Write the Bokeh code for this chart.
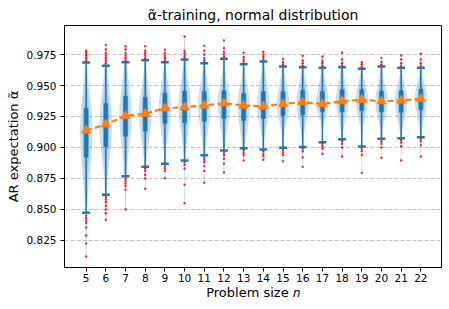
import numpy as np
from bokeh.plotting import figure
from bokeh.models import FixedTicker, Range1d
from bokeh.embed import file_html
from bokeh.resources import INLINE

# ---- data ----
sizes = list(range(5, 23))
means = [0.9137, 0.9186, 0.9256, 0.9272, 0.9317, 0.9325, 0.9339, 0.9357, 0.9339,
         0.9331, 0.9352, 0.9365, 0.9352, 0.9373, 0.9385, 0.9373, 0.9379, 0.9393]
q1 = [0.8922, 0.9008, 0.9089, 0.9132, 0.9196, 0.9199, 0.9212, 0.9236, 0.9218,
      0.9236, 0.9260, 0.9264, 0.9290, 0.9288, 0.9298, 0.9288, 0.9285, 0.9304]
q3 = [0.9317, 0.9357, 0.9414, 0.9406, 0.9438, 0.9454, 0.9452, 0.9457, 0.9435,
      0.9452, 0.9452, 0.9460, 0.9452, 0.9465, 0.9465, 0.9454, 0.9457, 0.9470]
whisk_hi = [0.9685, 0.9660, 0.9688, 0.9704, 0.9688, 0.9710, 0.9680, 0.9715, 0.9672,
            0.9694, 0.9653, 0.9648, 0.9643, 0.9648, 0.9635, 0.9653, 0.9643, 0.9643]
whisk_lo = [0.8473, 0.8619, 0.8769, 0.8844, 0.8868, 0.8895, 0.8938, 0.8976, 0.8994,
            0.8984, 0.8998, 0.9003, 0.9043, 0.9067, 0.9008, 0.9070, 0.9075, 0.9083]
top_out = [
    [0.970, 0.972, 0.974, 0.9755, 0.977, 0.978],
    [0.968, 0.970, 0.972, 0.974, 0.976, 0.979, 0.9828],
    [0.970, 0.972, 0.974, 0.976, 0.979, 0.9817],
    [0.972, 0.974, 0.976, 0.978, 0.9817],
    [0.970, 0.972, 0.974, 0.976, 0.9788],
    [0.9725, 0.974, 0.976, 0.978, 0.9895],
    [0.970, 0.972, 0.975, 0.978, 0.982],
    [0.973, 0.975, 0.977, 0.980, 0.9863],
    [0.969, 0.971, 0.973, 0.9764],
    [0.971, 0.973, 0.975, 0.9772],
    [0.967, 0.969, 0.9715],
    [0.966, 0.968, 0.970, 0.974],
    [0.966, 0.968, 0.970, 0.9734],
    [0.966, 0.968, 0.971, 0.9766],
    [0.965, 0.967, 0.9688],
    [0.967, 0.969, 0.9723],
    [0.966, 0.968, 0.971, 0.9742],
    [0.966, 0.968, 0.971, 0.9756],
]
low_out = [
    [0.845, 0.843, 0.841, 0.839, 0.8355, 0.829, 0.8226, 0.8121],
    [0.860, 0.858, 0.856, 0.853, 0.850, 0.847, 0.8417],
    [0.875, 0.873, 0.871, 0.869, 0.866, 0.850],
    [0.883, 0.881, 0.878, 0.875, 0.8667],
    [0.885, 0.883, 0.881, 0.8752],
    [0.888, 0.886, 0.883, 0.870, 0.855],
    [0.892, 0.890, 0.888, 0.885, 0.881, 0.8715],
    [0.896, 0.894, 0.891, 0.887, 0.8798],
    [0.898, 0.896, 0.894, 0.8895],
    [0.897, 0.895, 0.893, 0.8901],
    [0.898, 0.896, 0.894, 0.889],
    [0.899, 0.897, 0.892, 0.8844],
    [0.903, 0.901, 0.899, 0.8949],
    [0.905, 0.903, 0.900, 0.8927],
    [0.899, 0.897, 0.894, 0.8795],
    [0.905, 0.903, 0.900, 0.8917],
    [0.906, 0.904, 0.901, 0.8895],
    [0.907, 0.905, 0.902, 0.8927],
]
y_ticks = [0.825, 0.850, 0.875, 0.900, 0.925, 0.950, 0.975]

BLUE = "#1f77b4"
ORANGE = "#ff7f0e"

p = figure(width=449, height=309, output_backend="svg", toolbar_location=None,
           x_range=Range1d(3.9, 23.05), y_range=Range1d(0.8032, 0.9984),
           min_border_left=64, min_border_right=8, min_border_top=25, min_border_bottom=42)

p.title.text = "\u03b1\u0303-training, normal distribution"
p.title.text_font = "DejaVu Sans"
p.title.text_font_size = "14px"
p.title.text_font_style = "normal"
p.title.text_color = "black"
p.title.align = "center"
p.title.standoff = 6

# violins (two layers)
vx_out, vy_out, vx_in, vy_in = [], [], [], []
for i, n in enumerate(sizes):
    lo = min(low_out[i]); hi = max(top_out[i]); c = means[i]
    s_up = (q3[i] - c) / 0.674
    s_dn = (c - q1[i]) / 0.674
    ys = np.linspace(lo, hi, 160)
    s = np.where(ys > c, s_up, s_dn)
    w = np.exp(-0.5 * ((ys - c) / s) ** 2)
    for W, xl, yl in ((0.30, vx_out, vy_out), (0.17, vx_in, vy_in)):
        xs = np.concatenate([n + W * w, (n - W * w)[::-1]])
        yy = np.concatenate([ys, ys[::-1]])
        xl.append(list(xs)); yl.append(list(yy))
p.patches(vx_out, vy_out, fill_color=BLUE, fill_alpha=0.22, line_color=BLUE, line_alpha=0.15, line_width=0.8)
p.patches(vx_in, vy_in, fill_color=BLUE, fill_alpha=0.22, line_color=None)

# whiskers
p.segment(x0=sizes, y0=whisk_lo, x1=sizes, y1=whisk_hi, line_color=BLUE, line_width=1.5)
# boxes
p.vbar(x=sizes, bottom=q1, top=q3, width=0.2, fill_color=BLUE, line_color=BLUE, line_width=0.5)
# caps
cap_l = [n - 0.2 for n in sizes]
cap_r = [n + 0.2 for n in sizes]
p.segment(x0=cap_l, y0=whisk_hi, x1=cap_r, y1=whisk_hi, line_color=BLUE, line_width=2.5)
p.segment(x0=cap_l, y0=whisk_lo, x1=cap_r, y1=whisk_lo, line_color=BLUE, line_width=2.5)

# outliers
ox, oy = [], []
for i, n in enumerate(sizes):
    for v in top_out[i] + low_out[i]:
        ox.append(n); oy.append(v)
p.scatter(ox, oy, size=2.4, marker="circle", fill_color="red", line_color=None, fill_alpha=0.85)

# mean line + markers
p.line(sizes, means, line_color=ORANGE, line_width=2.2, line_dash="6 3")
p.scatter(sizes, means, marker="triangle", size=9, fill_color=ORANGE, line_color=ORANGE)

# axes
p.xaxis.ticker = FixedTicker(ticks=sizes)
p.yaxis.ticker = FixedTicker(ticks=y_ticks)
p.yaxis.major_label_overrides = {t: "%.3f" % t for t in y_ticks}
p.xaxis.axis_label = "Problem size \U0001D45B"
p.yaxis.axis_label = "AR expectation \u03b1\u0303"
for ax in (p.xaxis[0], p.yaxis[0]):
    ax.axis_label_text_font = "DejaVu Sans"
    ax.axis_label_text_font_size = "13px"
    ax.axis_label_text_font_style = "normal"
    ax.axis_label_text_color = "black"
    ax.major_label_text_font = "DejaVu Sans"
    ax.major_label_text_font_size = "10.5px"
    ax.major_label_text_color = "black"
    ax.axis_line_color = "black"
    ax.major_tick_line_color = "black"
    ax.major_tick_out = 4
    ax.major_tick_in = 0
    ax.minor_tick_line_color = None
p.xaxis.major_label_standoff = 2
p.yaxis.major_label_standoff = 4
p.xaxis.axis_label_standoff = 0
p.yaxis.axis_label_standoff = 2

p.xgrid.grid_line_color = None
p.ygrid.grid_line_color = "#b0b0b0"
p.ygrid.grid_line_dash = "4 2"
p.ygrid.grid_line_width = 0.8
p.outline_line_color = "black"
p.outline_line_width = 1
p.outline_line_alpha = 1

open("out.html", "w").write(file_html(p, INLINE))
